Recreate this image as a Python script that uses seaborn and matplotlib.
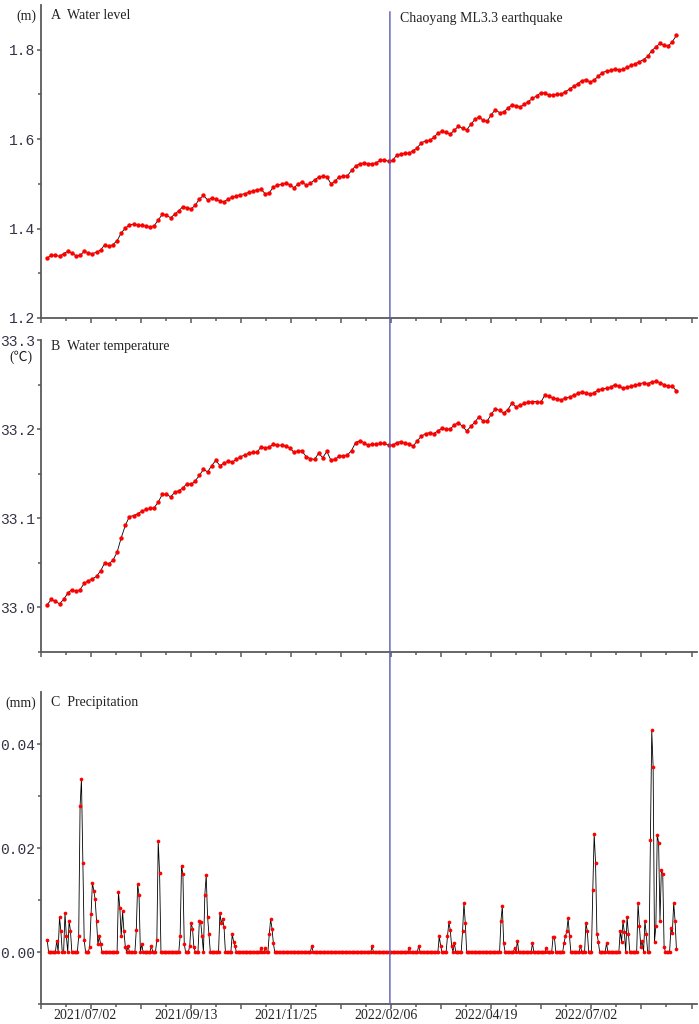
import numpy as np
import pandas as pd
import matplotlib
matplotlib.use("Agg")
import matplotlib.pyplot as plt
import matplotlib.dates as mdates
import matplotlib.transforms as mtransforms
from matplotlib.patches import ConnectionPatch
from matplotlib.ticker import FixedLocator, MultipleLocator, FormatStrFormatter
import seaborn as sns

# Water level (m), one reading every 3 days from 2021-05-31
water_level = [
    1.334, 1.341, 1.340, 1.338, 1.344, 1.349, 1.346, 1.339, 1.340, 1.349,
    1.346, 1.344, 1.347, 1.352, 1.364, 1.360, 1.364, 1.373, 1.390, 1.401,
    1.408, 1.410, 1.408, 1.407, 1.406, 1.404, 1.406, 1.419, 1.432, 1.430,
    1.424, 1.432, 1.440, 1.449, 1.447, 1.444, 1.452, 1.466, 1.474, 1.464,
    1.468, 1.467, 1.461, 1.460, 1.466, 1.470, 1.473, 1.476, 1.478, 1.481,
    1.484, 1.487, 1.488, 1.478, 1.480, 1.493, 1.497, 1.499, 1.502, 1.498,
    1.491, 1.500, 1.504, 1.497, 1.501, 1.509, 1.515, 1.517, 1.516, 1.500,
    1.506, 1.516, 1.517, 1.518, 1.530, 1.540, 1.545, 1.547, 1.545, 1.545,
    1.547, 1.553, 1.554, 1.550, 1.553, 1.564, 1.567, 1.568, 1.569, 1.574,
    1.581, 1.592, 1.596, 1.597, 1.604, 1.613, 1.618, 1.615, 1.611, 1.620,
    1.629, 1.624, 1.621, 1.633, 1.644, 1.650, 1.642, 1.640, 1.655, 1.666,
    1.659, 1.661, 1.669, 1.677, 1.675, 1.672, 1.678, 1.684, 1.691, 1.697,
    1.703, 1.704, 1.698, 1.699, 1.700, 1.701, 1.706, 1.712, 1.718, 1.724,
    1.731, 1.733, 1.728, 1.732, 1.741, 1.749, 1.752, 1.754, 1.757, 1.755,
    1.756, 1.761, 1.765, 1.769, 1.773, 1.778, 1.785, 1.798, 1.806, 1.814,
    1.810, 1.808, 1.818, 1.832,
]

# Water temperature (degC), same dates
water_temp = [
    33.003, 33.009, 33.007, 33.004, 33.009, 33.016, 33.020, 33.018, 33.020, 33.027,
    33.030, 33.032, 33.035, 33.041, 33.050, 33.049, 33.053, 33.062, 33.078, 33.092,
    33.102, 33.103, 33.105, 33.108, 33.110, 33.111, 33.112, 33.118, 33.127, 33.127,
    33.124, 33.129, 33.131, 33.134, 33.139, 33.138, 33.142, 33.148, 33.155, 33.152,
    33.159, 33.165, 33.159, 33.162, 33.164, 33.163, 33.166, 33.169, 33.171, 33.173,
    33.174, 33.174, 33.180, 33.179, 33.180, 33.183, 33.182, 33.182, 33.181, 33.179,
    33.174, 33.176, 33.175, 33.169, 33.167, 33.166, 33.173, 33.168, 33.175, 33.165,
    33.166, 33.170, 33.170, 33.171, 33.176, 33.185, 33.187, 33.185, 33.182, 33.183,
    33.183, 33.184, 33.184, 33.182, 33.182, 33.185, 33.186, 33.184, 33.183, 33.181,
    33.187, 33.192, 33.195, 33.196, 33.195, 33.198, 33.201, 33.200, 33.200, 33.205,
    33.207, 33.203, 33.198, 33.203, 33.208, 33.214, 33.209, 33.209, 33.217, 33.223,
    33.221, 33.218, 33.222, 33.229, 33.225, 33.227, 33.229, 33.230, 33.231, 33.231,
    33.230, 33.238, 33.237, 33.235, 33.234, 33.233, 33.235, 33.236, 33.238, 33.240,
    33.242, 33.241, 33.239, 33.241, 33.244, 33.245, 33.246, 33.247, 33.250, 33.248,
    33.246, 33.247, 33.248, 33.249, 33.251, 33.252, 33.251, 33.253, 33.254, 33.252,
    33.250, 33.248, 33.248, 33.243,
]

# Precipitation (mm): days after 2021-05-31 with rain; every other day is 0
rain_day = [
    0, 7, 9, 10, 13, 14, 16, 17, 23, 24, 25, 26, 27,
    31, 32, 33, 34, 35, 36, 37, 38, 39,
    52, 53, 54, 55, 56, 57, 59, 65, 66, 67, 69, 76, 80, 81, 82,
    97, 98, 99, 100, 104, 105, 106, 107, 111, 112, 113,
    115, 116, 117, 118, 126, 127, 128, 129, 135, 136, 137,
    156, 159, 162, 163, 164, 165, 193, 237, 264, 271,
    286, 287, 292, 293, 294, 295, 297, 303, 304, 305,
    331, 332, 333, 341, 343, 354, 364, 369, 370,
    377, 378, 379, 380, 381, 389, 393, 394, 398, 399, 400, 401, 402, 408,
    418, 419, 420, 421, 423, 424, 431, 432, 433, 434, 436, 437,
    440, 441, 442, 443, 444, 445, 446, 447, 448, 449, 450,
    455, 456, 457, 458, 459,
]
rain_mm = [
    0.0024, 0.0022, 0.0067, 0.0040, 0.0075, 0.0030, 0.0060, 0.0040, 0.0030, 0.0280, 0.0333, 0.0172, 0.0023,
    0.0010, 0.0073, 0.0133, 0.0118, 0.0101, 0.0060, 0.0015, 0.0030, 0.0015,
    0.0115, 0.0085, 0.0030, 0.0078, 0.0040, 0.0010, 0.0012, 0.0042, 0.0130, 0.0110, 0.0015, 0.0012, 0.0023, 0.0213, 0.0152,
    0.0031, 0.0166, 0.0150, 0.0015, 0.0012, 0.0056, 0.0045, 0.0010, 0.0059, 0.0057, 0.0030,
    0.0110, 0.0148, 0.0068, 0.0035, 0.0075, 0.0055, 0.0064, 0.0048, 0.0034, 0.0020, 0.0012,
    0.0008, 0.0008, 0.0034, 0.0063, 0.0045, 0.0017, 0.0012, 0.0011, 0.0008, 0.0012,
    0.0030, 0.0012, 0.0030, 0.0057, 0.0043, 0.0012, 0.0018, 0.0040, 0.0094, 0.0055,
    0.0060, 0.0088, 0.0017, 0.0008, 0.0022, 0.0017, 0.0008, 0.0028, 0.0028,
    0.0017, 0.0030, 0.0040, 0.0065, 0.0030, 0.0012, 0.0056, 0.0040, 0.0120, 0.0227, 0.0172, 0.0035, 0.0020, 0.0017,
    0.0040, 0.0020, 0.0059, 0.0038, 0.0068, 0.0035, 0.0094, 0.0050, 0.0010, 0.0022, 0.0059, 0.0035,
    0.0215, 0.0426, 0.0355, 0.0020, 0.0050, 0.0225, 0.0210, 0.0060, 0.0158, 0.0150, 0.0010,
    0.0046, 0.0036, 0.0094, 0.0060, 0.0005,
]

xtick_labels = ["2021/07/02", "2021/09/13", "2021/11/25", "2022/02/06", "2022/04/19", "2022/07/02"]
quake_date = "2022-02-05"

sns.set_style("ticks")
plt.rcParams["font.family"] = ["Liberation Serif", "DejaVu Sans"]

dates_ab = pd.date_range("2021-05-31", periods=len(water_level), freq="3D")
dates_p = pd.date_range("2021-05-31", periods=460, freq="D")
precip = np.zeros(len(dates_p))
precip[rain_day] = rain_mm

df_ab = pd.DataFrame({"date": dates_ab, "level": water_level, "temp": water_temp})
df_p = pd.DataFrame({"date": dates_p, "rain": precip})

fig = plt.figure(figsize=(6.99, 10.24), dpi=100)
left, width = 41 / 699, 656 / 699
ax1 = fig.add_axes([left, 1 - 318 / 1024, width, 313 / 1024])
ax2 = fig.add_axes([left, 1 - 652 / 1024, width, 312 / 1024])
ax3 = fig.add_axes([left, 1 - 1004 / 1024, width, 312 / 1024])
axes = [ax1, ax2, ax3]

for ax, data, col, size in [(ax1, df_ab, "level", 10), (ax2, df_ab, "temp", 10),
                            (ax3, df_p, "rain", 7)]:
    sns.lineplot(data=data, x="date", y=col, ax=ax, color="black", lw=0.6)
    sns.scatterplot(data=data, x="date", y=col, ax=ax, color="red", s=size,
                    linewidth=0, zorder=3)

# x axis: labels every 73 days, big ticks every 36.5, small ticks between
lab0 = mdates.date2num(pd.Timestamp("2021-07-02"))
majors = lab0 + 36.5 * np.arange(-1, 13)
minors = lab0 + 18.25 + 36.5 * np.arange(-1, 12)
names = []
for k in range(-1, 13):
    if k % 2 == 0 and k // 2 < len(xtick_labels):
        names.append(xtick_labels[k // 2])
    else:
        names.append("")

spine_col = "#5a5a5a"
for ax in axes:
    ax.set_xlim(lab0 - 36.5, lab0 + 442)
    ax.xaxis.set_major_locator(FixedLocator(majors))
    ax.xaxis.set_minor_locator(FixedLocator(minors))
    ax.set_xlabel("")
    ax.set_ylabel("")
    sns.despine(ax=ax)
    for s in ["left", "bottom"]:
        ax.spines[s].set_color(spine_col)
        ax.spines[s].set_linewidth(1.3)
    ax.tick_params(axis="x", which="major", length=3.5, width=1.1, color=spine_col, pad=0)
    ax.tick_params(axis="x", which="minor", length=1.8, width=1.1, color=spine_col)
    ax.tick_params(axis="y", which="major", length=3, width=1.1, color=spine_col, pad=1)
    ax.tick_params(axis="y", which="minor", length=2, width=1.1, color=spine_col)
    if ax is ax3:
        ax.set_xticklabels(names, fontsize=10, color="#222222")
    else:
        ax.set_xticklabels([""] * len(names))

ax1.set_ylim(1.2, 1.9)
ax1.yaxis.set_major_locator(MultipleLocator(0.2))
ax1.yaxis.set_minor_locator(FixedLocator([1.3, 1.5, 1.7]))
ax1.yaxis.set_major_formatter(FormatStrFormatter("%.1f"))

ax2.set_ylim(32.95, 33.3)
ax2.yaxis.set_major_locator(FixedLocator([33.0, 33.1, 33.2, 33.3]))
ax2.yaxis.set_minor_locator(FixedLocator([32.95, 33.05, 33.15, 33.25]))
ax2.yaxis.set_major_formatter(FormatStrFormatter("%.1f"))

ax3.set_ylim(-0.01, 0.05)
ax3.yaxis.set_major_locator(FixedLocator([0.0, 0.02, 0.04]))
ax3.yaxis.set_minor_locator(FixedLocator([-0.01, 0.01, 0.03]))
ax3.yaxis.set_major_formatter(FormatStrFormatter("%.2f"))

for ax in axes:
    for lbl in ax.get_yticklabels():
        lbl.set_fontfamily("Liberation Mono")
        lbl.set_fontsize(10.5)
        lbl.set_color("#333344")

shift = mtransforms.ScaledTranslation(-4 / 72, 0, fig.dpi_scale_trans)
for lbl in ax3.get_xticklabels():
    lbl.set_transform(lbl.get_transform() + shift)

# panel titles and units
txt = dict(fontsize=10, color="#222222", va="center")
ax1.text(0.015, 0.965, "A  Water level", transform=ax1.transAxes, ha="left", **txt)
ax1.text(-0.007, 0.965, "(m)", transform=ax1.transAxes, ha="right", **txt)
ax2.text(0.015, 0.98, "B  Water temperature", transform=ax2.transAxes, ha="left", **txt)
ax2.text(-0.031, 0.945, "(℃)", transform=ax2.transAxes, ha="center",
         family=["Liberation Serif", "Noto Sans CJK SC"], **txt)
ax3.text(0.015, 0.965, "C  Precipitation", transform=ax3.transAxes, ha="left", **txt)
ax3.text(-0.007, 0.965, "(mm)", transform=ax3.transAxes, ha="right", **txt)

# earthquake line across all three panels
qx = mdates.date2num(pd.Timestamp(quake_date))
con = ConnectionPatch(xyA=(qx, 1.885), coordsA=ax1.transData,
                      xyB=(qx, -0.01), coordsB=ax3.transData,
                      color="#5a5ab4", lw=1.0)
fig.add_artist(con)
ax1.annotate("Chaoyang ML3.3 earthquake", xy=(qx, 0.958),
             xycoords=("data", "axes fraction"), xytext=(7, 0),
             textcoords="offset points", ha="left", **txt)

fig.savefig("out.png", dpi=100, facecolor="white")
